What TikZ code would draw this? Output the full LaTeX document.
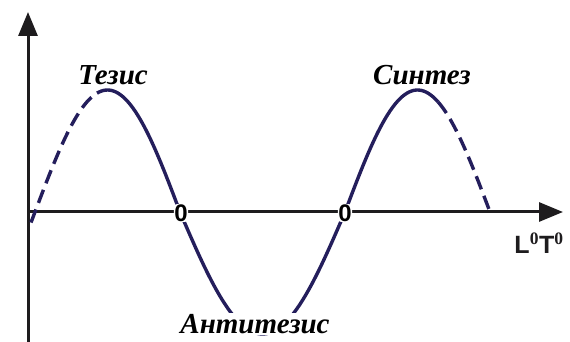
\documentclass[tikz,border=0pt]{standalone}
\usepackage{fontspec}
\setmainfont{Liberation Serif}
\setsansfont{Liberation Sans}
\usetikzlibrary{arrows.meta}
\definecolor{wave}{RGB}{36,30,92}
\definecolor{axis}{RGB}{30,28,30}
\tikzset{
  axisline/.style={line width=3pt, color=axis, -{Triangle[length=24pt,width=19pt]}},
  waveline/.style={line width=3.4pt, color=wave},
  wavedash/.style={waveline, dash pattern=on 14pt off 7pt},
  stagelabel/.style={font=\fontsize{29}{29}\selectfont\bfseries\itshape},
  zerolabel/.style={font=\fontsize{24}{24}\selectfont\sffamily\bfseries, fill=white, inner sep=0.4pt, rounded corners=3pt}
}
\begin{document}
\begin{tikzpicture}[x=1pt,y=1pt]
  \useasboundingbox (0,0) rectangle (570,342);
  \coordinate (O) at (28,130);
  \coordinate (xend) at (563,130);
  \coordinate (ystart) at (28,0);
  \coordinate (yend) at (28,330);
  \draw[axisline] (ystart) -- (yend);
  \draw[axisline] (O) -- (xend);
  \draw[wavedash] plot[domain=31:97, samples=40, smooth] (\x,{130+122*sin((\x-35)/145*180)});
  \draw[waveline] plot[domain=97:180, samples=40, smooth] (\x,{130+122*sin((\x-35)/145*180)});
  \draw[waveline] plot[domain=180:345, samples=60, smooth] (\x,{130-122*sin((\x-180)/165*180)});
  \draw[waveline] plot[domain=345:438, samples=40, smooth] (\x,{130+122*sin((\x-345)/145*180)});
  \draw[wavedash] plot[domain=438:490, samples=30, smooth] (\x,{130+122*sin((\x-345)/145*180)});
  \node[stagelabel] (thesis) at (113,267) {Тезис};
  \node[stagelabel] (synthesis) at (422,267) {Синтез};
  \node[stagelabel, fill=white, inner sep=1pt] (antithesis) at (255,18) {Антитезис};
  \node[zerolabel] (zeroA) at (181,129) {0};
  \node[zerolabel] (zeroB) at (345,129) {0};
  \node[font=\fontsize{25}{25}\selectfont\sffamily\bfseries, text=axis] (units) at (539,99) {L$^{\mathbf{0}}$T$^{\mathbf{0}}$};
\end{tikzpicture}
\end{document}
